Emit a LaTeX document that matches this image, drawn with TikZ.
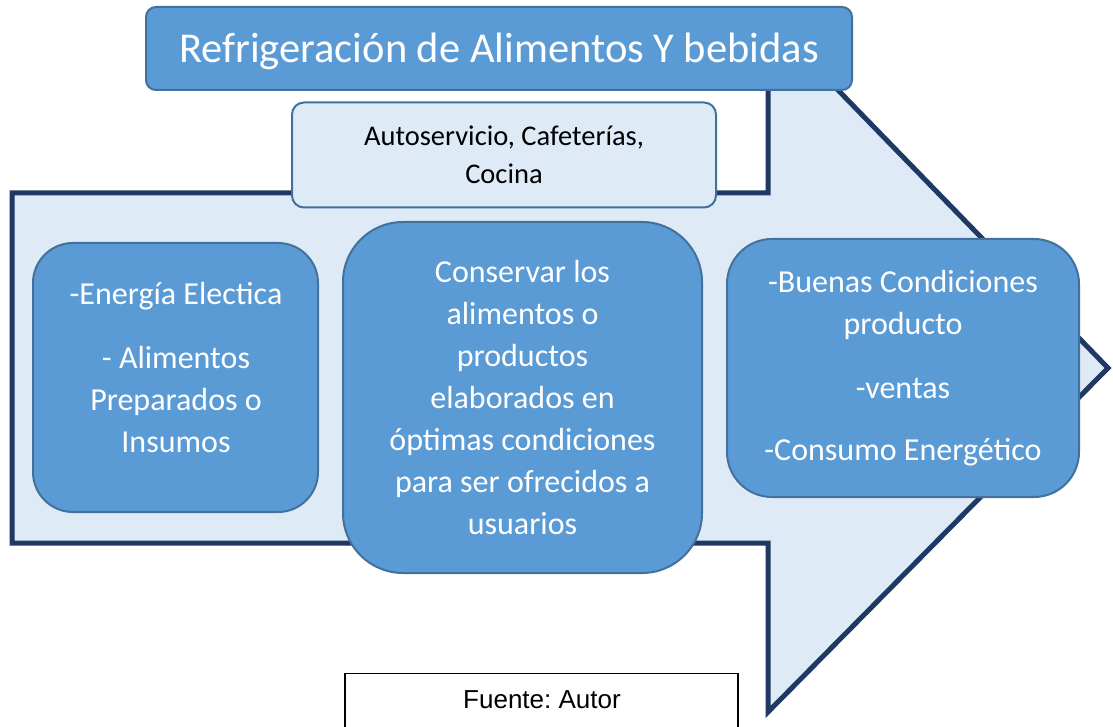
\documentclass[tikz,border=0pt]{standalone}
\usepackage{fontspec}
\setmainfont{Carlito}
\newfontfamily\arialfont{Liberation Sans}
\frenchspacing
\definecolor{azul}{HTML}{5B9BD5}
\definecolor{borde}{HTML}{41719C}
\definecolor{claro}{HTML}{DEEBF7}
\definecolor{marino}{HTML}{203864}
\tikzstyle{caja} = [draw=borde, fill=azul, line width=2pt, text=white, align=center, inner sep=0pt]
\tikzstyle{clara} = [caja, fill=claro, text=black]
\tikzstyle{flecha} = [draw=marino, fill=claro, line width=5pt, line join=miter]
\tikzstyle{texto} = [font={\fontsize{32}{42}\selectfont}]
\tikzstyle{fuente} = [draw=black, fill=white, line width=1.2pt, font={\arialfont\fontsize{26}{30}\selectfont}]

\begin{document}
\begin{tikzpicture}[x=1pt,y=-1pt]
  \useasboundingbox (0,0) rectangle (1113,727);
  \fill[white] (0,0) rectangle (1113,727);
  \draw[flecha] (12,193) -- (768,193) -- (768,18) -- (1108,368) -- (768,712) -- (768,543) -- (12,543) -- cycle;
  \node[caja,rounded corners=10pt,minimum width=706pt,minimum height=83pt,text height=27.4pt,text depth=0pt,font={\fontsize{42.5}{50}\selectfont}](titulo) at (499,48.5){Refrigeración de Alimentos Y bebidas};
  \node[clara,rounded corners=12pt,minimum width=424pt,minimum height=105pt,font={\fontsize{28.5}{38}\selectfont}](lugar) at (504,155){Autoservicio, Cafeterías,\\Cocina};
  \node[caja,rounded corners=40pt,minimum width=285pt,minimum height=269pt](entrada) at (175.5,377.5){};
  \node[texto,text=white,align=center](entradatxt) at (176,368){-Energía Electica\\[22pt]- Alimentos\\Preparados o\\Insumos};
  \node[caja,texto,rounded corners=60pt,minimum width=359pt,minimum height=351pt](proceso) at (522.5,397.5){Conservar los\\alimentos o\\productos\\elaborados en\\óptimas condiciones\\para ser ofrecidos a\\usuarios};
  \node[caja,texto,rounded corners=45pt,minimum width=352pt,minimum height=258pt](salida) at (903,368){-Buenas Condiciones\\producto\\[22pt]-ventas\\[20pt]-Consumo Energético};
  \node[fuente,minimum width=393pt,minimum height=60pt,anchor=north](autor) at (541.5,673){};
  \node[font={\arialfont\fontsize{26}{30}\selectfont}](autortxt) at (542,700){Fuente: Autor};
\end{tikzpicture}
\end{document}
